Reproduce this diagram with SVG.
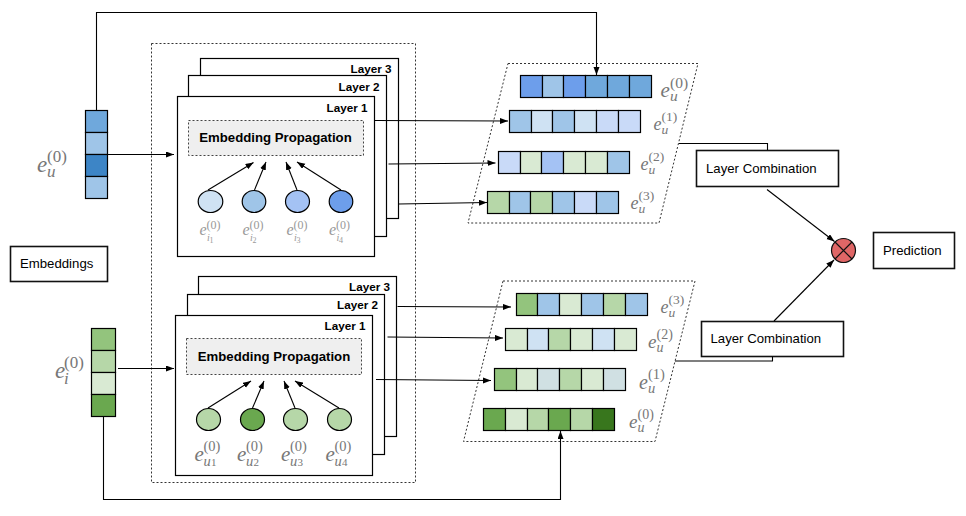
<svg xmlns="http://www.w3.org/2000/svg" width="966" height="516" viewBox="0 0 966 516">
<style>
text{font-family:"Liberation Sans",Arial,sans-serif;fill:#000}
.b{fill:#fff;stroke:#000;stroke-width:1.2}
.bx{fill:#fff;stroke:#111;stroke-width:1.6}
.dot{fill:none;stroke:#333;stroke-width:1;stroke-dasharray:2 2}
.ep{fill:#efefef;stroke:#444;stroke-width:1;stroke-dasharray:2 2}
.lay{font-size:11.7px;font-weight:bold;text-anchor:end}
.ept{font-size:13.2px;font-weight:bold;text-anchor:middle}
.lab{font-size:13.200px}
.cell{stroke:#000;stroke-width:1.2}
.m text{font-family:"Liberation Serif","Times New Roman",serif;fill:#777}
.n text{font-family:"Liberation Serif","Times New Roman",serif;fill:#999}
.it{font-style:italic}
.cn{fill:none;stroke:#000;stroke-width:1.1}
</style>
<defs>
<marker id="a" markerUnits="userSpaceOnUse" markerWidth="9" markerHeight="7" refX="8" refY="3" orient="auto"><path d="M0 0L8 3L0 6Z" fill="#000"/></marker>
</defs>

<g id="outer-box"><rect class="dot" x="151.5" y="43.5" width="264" height="439"/></g>

<g id="user-vector">
<rect class="cell" x="85.5" y="110.5" width="22" height="22" fill="#6fa8dc"/>
<rect class="cell" x="85.5" y="132.5" width="22" height="22" fill="#9fc5e8"/>
<rect class="cell" x="85.5" y="154.5" width="22" height="22" fill="#3d85c6"/>
<rect class="cell" x="85.5" y="176.5" width="22" height="22" fill="#9fc5e8"/>
</g>
<g id="user-label" class="m" transform="translate(37,172)"><text class="it" font-size="23">e</text><text x="10" y="-10" font-size="17">(0)</text><text class="it" x="10" y="5" font-size="17">u</text></g>

<g id="item-vector">
<rect class="cell" x="91.5" y="328.5" width="24" height="22" fill="#93c47d"/>
<rect class="cell" x="91.5" y="350.5" width="24" height="22" fill="#b6d7a8"/>
<rect class="cell" x="91.5" y="372.5" width="24" height="22" fill="#d9ead3"/>
<rect class="cell" x="91.5" y="394.5" width="24" height="22" fill="#6aa84f"/>
</g>
<g id="item-label" class="m" transform="translate(55,378)"><text class="it" font-size="23">e</text><text x="9" y="-10" font-size="17">(0)</text><text class="it" x="9" y="6" font-size="17">i</text></g>

<g id="embeddings"><rect class="bx" x="10.5" y="246.5" width="97" height="35"/><text class="lab" x="20" y="268">Embeddings</text></g>

<g id="user-layer-3"><rect class="b" x="200.5" y="58.5" width="198" height="160"/><text class="lay" x="391.5" y="73">Layer 3</text></g>
<g id="user-layer-2"><rect class="b" x="188.5" y="75.5" width="198" height="161"/><text class="lay" x="379.5" y="91">Layer 2</text></g>
<g id="user-layer-1"><rect class="b" x="177.5" y="96.5" width="197" height="160"/><text class="lay" x="367.5" y="112">Layer 1</text></g>
<g id="user-propagation"><rect class="ep" x="188.5" y="120.5" width="175" height="35"/><text class="ept" x="275.5" y="142">Embedding Propagation</text></g>
<g id="user-neighbours">
<ellipse class="cell" cx="210.5" cy="201.5" rx="12.3" ry="11" fill="#cfe2f3"/>
<ellipse class="cell" cx="254" cy="201.5" rx="11.8" ry="11" fill="#9fc5e8"/>
<ellipse class="cell" cx="297.5" cy="201.5" rx="12" ry="11" fill="#a4c2f4"/>
<ellipse class="cell" cx="341" cy="201.5" rx="11.8" ry="11" fill="#6d9eeb"/>
</g>
<g id="user-neighbour-labels" class="n">
<g><text class="it" x="199.500" y="235" font-size="16">e</text><text x="206.500" y="229" font-size="12">(0)</text><text class="it" x="207" y="241" font-size="10">i</text><text x="209.500" y="243" font-size="8">1</text></g>
<g><text class="it" x="242.500" y="235" font-size="16">e</text><text x="249.500" y="229" font-size="12">(0)</text><text class="it" x="250" y="241" font-size="10">i</text><text x="252.500" y="243" font-size="8">2</text></g>
<g><text class="it" x="286.500" y="235" font-size="16">e</text><text x="293.500" y="229" font-size="12">(0)</text><text class="it" x="294" y="241" font-size="10">i</text><text x="296.500" y="243" font-size="8">3</text></g>
<g><text class="it" x="329" y="235" font-size="16">e</text><text x="336" y="229" font-size="12">(0)</text><text class="it" x="336.500" y="241" font-size="10">i</text><text x="339" y="243" font-size="8">4</text></g>
</g>

<g id="item-layer-3"><rect class="b" x="198.500" y="276.500" width="198" height="160"/><text class="lay" x="390" y="291">Layer 3</text></g>
<g id="item-layer-2"><rect class="b" x="187.500" y="294.500" width="197" height="160"/><text class="lay" x="378" y="309">Layer 2</text></g>
<g id="item-layer-1"><rect class="b" x="175.500" y="315.500" width="197" height="160"/><text class="lay" x="365.500" y="330">Layer 1</text></g>
<g id="item-propagation"><rect class="ep" x="186.500" y="338.500" width="175" height="36"/><text class="ept" x="274" y="360.500">Embedding Propagation</text></g>
<g id="item-neighbours">
<ellipse class="cell" cx="208.500" cy="419.500" rx="12" ry="11" fill="#b6d7a8"/>
<ellipse class="cell" cx="252.500" cy="419.500" rx="12" ry="11" fill="#6aa84f"/>
<ellipse class="cell" cx="295.500" cy="419.500" rx="12" ry="11" fill="#b6d7a8"/>
<ellipse class="cell" cx="339.500" cy="419.500" rx="12" ry="11" fill="#b6d7a8"/>
</g>
<g id="item-neighbour-labels" class="m">
<g><text class="it" x="194.500" y="461" font-size="21">e</text><text x="203.500" y="451" font-size="14.500">(0)</text><text class="it" x="203.500" y="466" font-size="14.500">u</text><text x="211" y="466" font-size="11">1</text></g>
<g><text class="it" x="237" y="461" font-size="21">e</text><text x="246" y="451" font-size="14.500">(0)</text><text class="it" x="246" y="466" font-size="14.500">u</text><text x="253.500" y="466" font-size="11">2</text></g>
<g><text class="it" x="281" y="461" font-size="21">e</text><text x="290" y="451" font-size="14.500">(0)</text><text class="it" x="290" y="466" font-size="14.500">u</text><text x="297.500" y="466" font-size="11">3</text></g>
<g><text class="it" x="325.500" y="461" font-size="21">e</text><text x="334.500" y="451" font-size="14.500">(0)</text><text class="it" x="334.500" y="466" font-size="14.500">u</text><text x="342" y="466" font-size="11">4</text></g>
</g>

<g id="user-combined">
<path class="dot" d="M508 63.500H698L659 223H468Z"/>
<g transform="translate(520.500,75.500)"><rect class="cell" width="22" height="22" fill="#6d9eeb"/><rect class="cell" x="22" width="21" height="22" fill="#9fc5e8"/><rect class="cell" x="43" width="22" height="22" fill="#6d9eeb"/><rect class="cell" x="65" width="22" height="22" fill="#6fa8dc"/><rect class="cell" x="87" width="22" height="22" fill="#6fa8dc"/><rect class="cell" x="109" width="22" height="22" fill="#6fa8dc"/></g>
<g transform="translate(509.500,110.500)"><rect class="cell" width="22" height="22" fill="#9fc5e8"/><rect class="cell" x="22" width="21" height="22" fill="#cfe2f3"/><rect class="cell" x="43" width="22" height="22" fill="#9fc5e8"/><rect class="cell" x="65" width="22" height="22" fill="#cfe2f3"/><rect class="cell" x="87" width="22" height="22" fill="#c9daf8"/><rect class="cell" x="109" width="22" height="22" fill="#c9daf8"/></g>
<g transform="translate(498.500,151.500)"><rect class="cell" width="22" height="22" fill="#c9daf8"/><rect class="cell" x="22" width="21" height="22" fill="#d9ead3"/><rect class="cell" x="43" width="22" height="22" fill="#a4c2f4"/><rect class="cell" x="65" width="22" height="22" fill="#d9ead3"/><rect class="cell" x="87" width="22" height="22" fill="#d9ead3"/><rect class="cell" x="109" width="22" height="22" fill="#9fc5e8"/></g>
<g transform="translate(487.500,191.500)"><rect class="cell" width="22" height="22" fill="#b6d7a8"/><rect class="cell" x="22" width="21" height="22" fill="#9fc5e8"/><rect class="cell" x="43" width="22" height="22" fill="#b6d7a8"/><rect class="cell" x="65" width="22" height="22" fill="#9fc5e8"/><rect class="cell" x="87" width="22" height="22" fill="#c9daf8"/><rect class="cell" x="109" width="22" height="22" fill="#9fc5e8"/></g>
</g>
<g id="user-combined-labels" class="m">
<g transform="translate(660.500,97)"><text class="it" font-size="21">e</text><text x="9.500" y="-9" font-size="15.500">(0)</text><text class="it" x="9.500" y="4" font-size="15.500">u</text></g>
<g transform="translate(653.500,130)"><text class="it" font-size="18">e</text><text x="8" y="-9" font-size="13.500">(1)</text><text class="it" x="8" y="4" font-size="13.500">u</text></g>
<g transform="translate(640.500,170)"><text class="it" font-size="18">e</text><text x="8" y="-9" font-size="13.500">(2)</text><text class="it" x="8" y="4" font-size="13.500">u</text></g>
<g transform="translate(630.500,209)"><text class="it" font-size="18">e</text><text x="8" y="-9" font-size="13.500">(3)</text><text class="it" x="8" y="4" font-size="13.500">u</text></g>
</g>

<g id="item-combined">
<path class="dot" d="M503 281H695L655 441.500H463.500Z"/>
<g transform="translate(516.500,293.500)"><rect class="cell" width="21" height="22" fill="#93c47d"/><rect class="cell" x="21" width="22" height="22" fill="#9fc5e8"/><rect class="cell" x="43" width="22" height="22" fill="#d9ead3"/><rect class="cell" x="65" width="22" height="22" fill="#9fc5e8"/><rect class="cell" x="87" width="22" height="22" fill="#b6d7a8"/><rect class="cell" x="109" width="22" height="22" fill="#9fc5e8"/></g>
<g transform="translate(505.500,328.500)"><rect class="cell" width="22" height="22" fill="#d9ead3"/><rect class="cell" x="22" width="21" height="22" fill="#cfe2f3"/><rect class="cell" x="43" width="22" height="22" fill="#b6d7a8"/><rect class="cell" x="65" width="22" height="22" fill="#d9ead3"/><rect class="cell" x="87" width="22" height="22" fill="#cfe2f3"/><rect class="cell" x="109" width="22" height="22" fill="#d9ead3"/></g>
<g transform="translate(494.500,368.500)"><rect class="cell" width="22" height="22" fill="#93c47d"/><rect class="cell" x="22" width="21" height="22" fill="#d9ead3"/><rect class="cell" x="43" width="22" height="22" fill="#d0e0e3"/><rect class="cell" x="65" width="22" height="22" fill="#b6d7a8"/><rect class="cell" x="87" width="22" height="22" fill="#d9ead3"/><rect class="cell" x="109" width="22" height="22" fill="#d0e0e3"/></g>
<g transform="translate(483.500,408.500)"><rect class="cell" width="22" height="22" fill="#6aa84f"/><rect class="cell" x="22" width="22" height="22" fill="#d9ead3"/><rect class="cell" x="44" width="21" height="22" fill="#b6d7a8"/><rect class="cell" x="65" width="22" height="22" fill="#6aa84f"/><rect class="cell" x="87" width="22" height="22" fill="#b6d7a8"/><rect class="cell" x="109" width="22" height="22" fill="#38761d"/></g>
</g>
<g id="item-combined-labels" class="m">
<g transform="translate(660.500,313)"><text class="it" font-size="18">e</text><text x="8" y="-9" font-size="13.500">(3)</text><text class="it" x="8" y="4" font-size="13.500">u</text></g>
<g transform="translate(648,348)"><text class="it" font-size="19">e</text><text x="8.500" y="-9" font-size="14">(2)</text><text class="it" x="8.500" y="4" font-size="14">u</text></g>
<g transform="translate(639,389)"><text class="it" font-size="20">e</text><text x="9" y="-10" font-size="14.500">(1)</text><text class="it" x="9" y="4" font-size="14.500">u</text></g>
<g transform="translate(629,428)"><text class="it" font-size="19">e</text><text x="8.500" y="-9" font-size="14">(0)</text><text class="it" x="8.500" y="4" font-size="14">u</text></g>
</g>

<g id="layer-combination-1"><rect class="bx" x="696.500" y="150.500" width="142" height="36"/><text class="lab" x="706" y="172.500">Layer Combination</text></g>
<g id="layer-combination-2"><rect class="bx" x="701.500" y="321.500" width="142" height="35"/><text class="lab" x="710.500" y="343">Layer Combination</text></g>
<g id="prediction"><rect class="bx" x="873.500" y="232.500" width="81" height="36"/><text class="lab" x="883" y="254.500">Prediction</text></g>
<g id="combine-op"><circle cx="843.500" cy="250.500" r="12" fill="#e06666" stroke="#111" stroke-width="1.2"/><path d="M835 242L852 259M852 242L835 259" stroke="#111" stroke-width="1.2" fill="none"/></g>

<g id="connectors">
<path class="cn" marker-end="url(#a)" d="M96.500 110V12.500H596.500V75"/>
<path class="cn" marker-end="url(#a)" d="M107.500 154.500H174"/>
<path class="cn" marker-end="url(#a)" d="M375 120.500L508 121"/>
<path class="cn" marker-end="url(#a)" d="M388.500 164L495.500 163"/>
<path class="cn" marker-end="url(#a)" d="M398.500 204L487 202.500"/>
<path class="cn" marker-end="url(#a)" d="M208 190L253.500 162.500"/>
<path class="cn" marker-end="url(#a)" d="M254.500 190L266 162"/>
<path class="cn" marker-end="url(#a)" d="M297 190L286 162"/>
<path class="cn" marker-end="url(#a)" d="M341 190L297 162"/>
<path class="cn" marker-end="url(#a)" d="M118 368.500H174"/>
<path class="cn" marker-end="url(#a)" d="M397.500 306.500L511 307"/>
<path class="cn" marker-end="url(#a)" d="M387.500 337L503 338"/>
<path class="cn" marker-end="url(#a)" d="M376 379.500L491 380.500"/>
<path class="cn" marker-end="url(#a)" d="M208 408L251 381"/>
<path class="cn" marker-end="url(#a)" d="M252.500 408L264 381"/>
<path class="cn" marker-end="url(#a)" d="M295 408L284 381"/>
<path class="cn" marker-end="url(#a)" d="M339 408L295 381"/>
<path class="cn" marker-end="url(#a)" d="M103.500 416.500V499.500H560.500V431"/>
<path class="cn" d="M679 143.500H767.500V150"/>
<path class="cn" d="M675 361H772.500V356.500"/>
<path class="cn" marker-end="url(#a)" d="M767 189.500L834.500 241.500"/>
<path class="cn" marker-end="url(#a)" d="M774 321L834 260"/>
</g>
</svg>
